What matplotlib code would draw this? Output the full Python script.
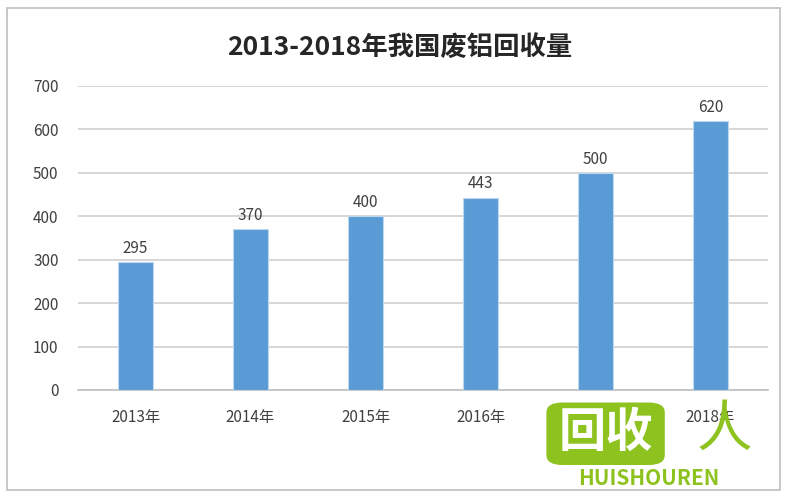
import matplotlib
matplotlib.use("Agg")
import matplotlib.pyplot as plt
from matplotlib.patches import Rectangle, FancyBboxPatch

plt.rcParams['font.family'] = ['Noto Sans CJK SC', 'DejaVu Sans']

categories = ['2013年', '2014年', '2015年', '2016年', '2017年', '2018年']
values = [295, 370, 400, 443, 500, 620]
title = '2013-2018年我国废铝回收量'

fig = plt.figure(figsize=(8, 5), dpi=100)
ax = fig.add_axes([0.0975, 0.22, 0.8625, 0.608])

x = range(len(categories))
bars = ax.bar(x, values, width=0.31, color='#5B9BD5', edgecolor='#BDD7EE', linewidth=0.8, zorder=3)
for xi, v in zip(x, values):
    ax.text(xi, v + 12, str(v), ha='center', va='bottom', fontsize=11, color='#404040')

ax.set_xlim(-0.5, len(categories) - 0.5)
ax.set_ylim(0, 700)
ax.set_yticks(range(0, 701, 100))
ax.yaxis.grid(True, color='#D0D0D0', linewidth=1.2, zorder=0)
ax.set_axisbelow(True)
ax.set_xticks(list(x))
ax.set_xticklabels(categories, fontsize=11, color='#404040')
ax.tick_params(axis='y', labelsize=11, labelcolor='#404040', length=0, pad=14)
ax.tick_params(axis='x', length=0, pad=14)
for s in ['top', 'right', 'left']:
    ax.spines[s].set_visible(False)
ax.spines['bottom'].set_color('#C0C0C0')
ax.spines['bottom'].set_linewidth(1.2)

fig.text(0.5, 0.905, title, ha='center', va='center', fontsize=19, fontweight='bold', color='#262626')

# outer frame
fig.patches.append(Rectangle((0.009, 0.02), 0.966, 0.965, transform=fig.transFigure,
                             fill=False, edgecolor='#BFBFBF', linewidth=1.2))

# watermark
green = '#8DC21F'
fig.patches.append(FancyBboxPatch((0.688, 0.075), 0.138, 0.115, transform=fig.transFigure,
                                  boxstyle='round,pad=0.005,rounding_size=0.02',
                                  facecolor=green, edgecolor='none', zorder=5))
fig.text(0.757, 0.135, '回收', ha='center', va='center', fontsize=34, fontweight='bold',
         color='white', zorder=6)
fig.text(0.811, 0.022, 'HUISHOUREN', ha='center', va='bottom', fontsize=15, fontweight='bold',
         style='italic', color=green, zorder=6)
fig.text(0.905, 0.14, '人', ha='center', va='center', fontsize=40, color=green, zorder=6)

fig.savefig('out.png', dpi=100)
